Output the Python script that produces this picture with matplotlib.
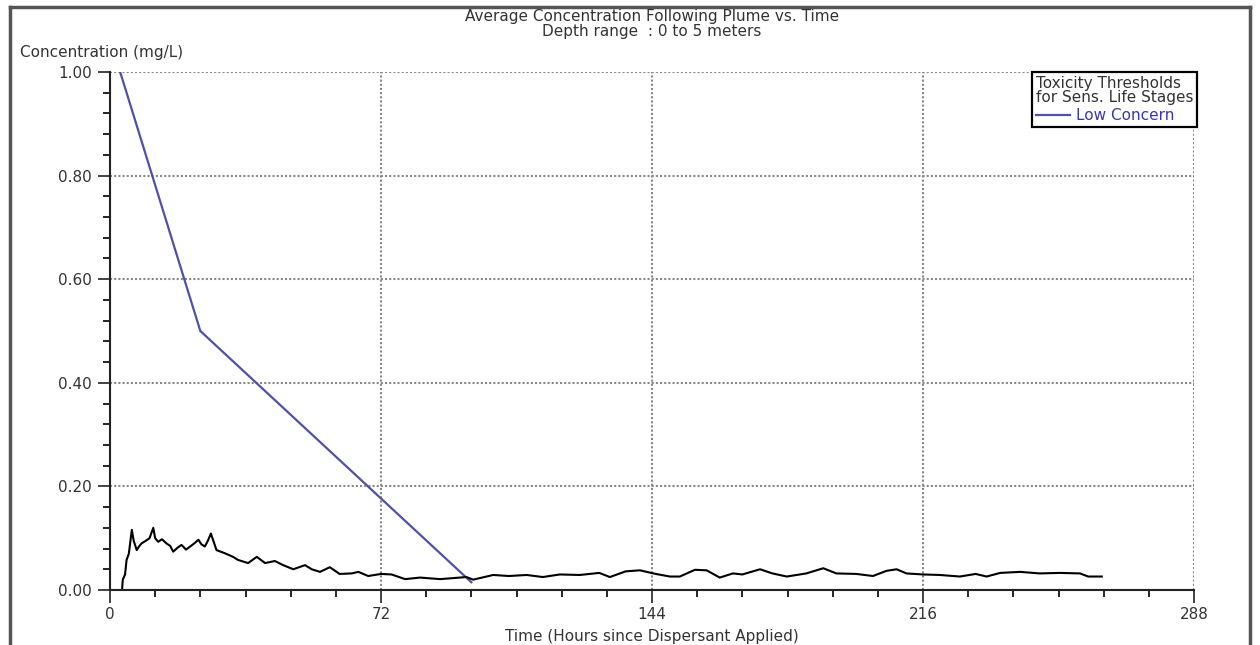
import matplotlib.pyplot as plt
from matplotlib.lines import Line2D
import numpy as np

# Low Concern toxicity threshold (hours, mg/L)
threshold_hours = [2.7, 24, 96]
threshold_conc = [1.0, 0.5, 0.015]

# Average concentration following plume
plume_hours = [3.2, 3.4, 4.0, 4.4, 5.0, 5.8, 6.3, 7.1, 7.8, 8.4, 9.5, 10.5, 11.5, 12.0,
               12.8, 13.8, 15.0, 16.0, 16.8, 18.0, 19.0, 20.2, 21.3, 22.4, 23.5, 24.3,
               25.2, 26.0, 26.8, 28.3, 30.5, 32.7, 34.0, 36.7, 39.0, 41.2, 43.8, 46.0,
               48.7, 51.8, 53.6, 55.8, 58.4, 61.0, 64.2, 66.0, 68.6, 72.0, 74.8, 78.4,
               82.4, 87.7, 94.7, 96.5, 101.8, 106.0, 110.7, 115.0, 119.5, 124.8, 130.0,
               132.8, 137.0, 140.8, 145.0, 148.8, 151.4, 155.4, 158.5, 162.0, 165.5,
               168.0, 172.7, 176.0, 179.8, 185.0, 189.5, 193.0, 198.3, 202.7, 206.3,
               209.0, 211.6, 216.0, 220.5, 225.8, 230.0, 232.9, 236.5, 241.8, 247.0,
               252.4, 257.7, 259.9, 263.5]
plume_conc = [0.0, 0.02, 0.03, 0.058, 0.07, 0.116, 0.095, 0.077, 0.085, 0.09, 0.095, 0.1,
              0.12, 0.1, 0.093, 0.098, 0.09, 0.085, 0.074, 0.082, 0.087, 0.078, 0.084,
              0.09, 0.097, 0.088, 0.084, 0.095, 0.109, 0.077, 0.071, 0.064, 0.058, 0.052,
              0.064, 0.052, 0.056, 0.048, 0.04, 0.048, 0.04, 0.035, 0.044, 0.031, 0.032,
              0.035, 0.027, 0.031, 0.03, 0.021, 0.024, 0.021, 0.025, 0.02, 0.029, 0.027,
              0.029, 0.025, 0.03, 0.029, 0.033, 0.025, 0.036, 0.038, 0.031, 0.026, 0.026,
              0.039, 0.038, 0.024, 0.032, 0.03, 0.04, 0.032, 0.026, 0.032, 0.042, 0.032,
              0.031, 0.027, 0.037, 0.04, 0.032, 0.030, 0.029, 0.026, 0.031, 0.026, 0.033,
              0.035, 0.032, 0.033, 0.032, 0.026, 0.026]

x_major = [0, 72, 144, 216, 288]
y_major = [0.0, 0.2, 0.4, 0.6, 0.8, 1.0]

FS = 11
TXT = '#333333'

fig = plt.figure(figsize=(12.6, 6.45), dpi=100)
ax = fig.add_axes([110 / 1260, 1 - 590 / 645, (1194 - 110) / 1260, (590 - 72) / 645])

ax.plot(threshold_hours, threshold_conc, color='#5050a8', lw=1.6, label='Low Concern')
ax.plot(plume_hours, plume_conc, color='black', lw=1.5)

ax.set_xlim(0, 288)
ax.set_ylim(0, 1.0)
ax.set_xticks(x_major)
ax.set_xticks(np.arange(0, 289, 12), minor=True)
ax.set_yticks(y_major)
ax.set_yticks(np.arange(0, 1.001, 0.04), minor=True)
ax.set_yticklabels([f"{v:.2f}" for v in y_major])
ax.tick_params(axis='both', which='major', length=9, width=1.2, labelsize=FS,
               colors='#222222', labelcolor=TXT)
ax.tick_params(axis='both', which='minor', length=5, width=1.2)
ax.tick_params(axis='x', pad=3)
ax.tick_params(axis='y', pad=4)

ax.grid(True, which='major', color='#888888', ls=(0, (1, 1)), lw=1.5)
for side in ['top', 'right']:
    ax.spines[side].set_visible(False)
for side in ['left', 'bottom']:
    ax.spines[side].set_linewidth(1.5)
    ax.spines[side].set_color('#222222')

fig.text(652 / 1260, 1 - 636 / 645, 'Time (Hours since Dispersant Applied)',
         fontsize=FS, color=TXT, ha='center', va='center')
fig.text(20 / 1260, 1 - 52 / 645, 'Concentration (mg/L)', fontsize=FS, color=TXT, va='center')
fig.text(652 / 1260, 1 - 24 / 645, 'Average Concentration Following Plume vs. Time\nDepth range  : 0 to 5 meters',
         fontsize=FS, color=TXT, ha='center', va='center', linespacing=1.0)

leg = ax.legend(loc='upper right', bbox_to_anchor=(1.003, 1.0), borderaxespad=0, fontsize=FS,
                title='Toxicity Thresholds\nfor Sens. Life Stages', title_fontsize=FS,
                alignment='left', fancybox=False, framealpha=1, edgecolor='black',
                handlelength=2.2, handletextpad=0.4, borderpad=0.25, labelspacing=0.2)
leg.get_frame().set_linewidth(1.6)
leg.get_title().set_linespacing(0.95)
leg.get_title().set_color(TXT)
for t in leg.get_texts():
    t.set_color('#3838a8')

# outer window frame
for xs, ys in [([10, 10], [0, 645 - 7]), ([1250, 1250], [0, 645 - 7]), ([10, 1250], [645 - 7, 645 - 7])]:
    fig.add_artist(Line2D([x / 1260 for x in xs], [y / 645 for y in ys], color='#555555', lw=2.5))

fig.savefig('out.png', dpi=100)
